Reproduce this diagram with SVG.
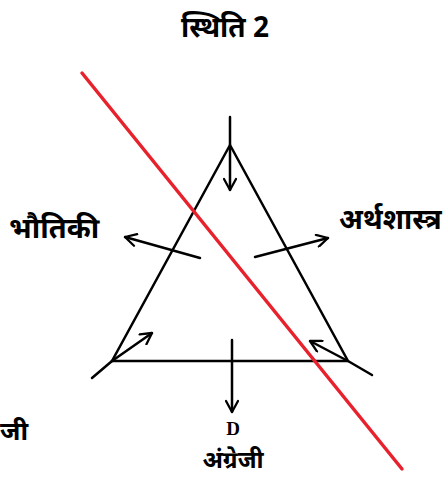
<svg xmlns="http://www.w3.org/2000/svg" width="448" height="477" viewBox="0 0 448 477">
<style>
.ln{stroke:#000;stroke-width:2.5;fill:none;stroke-linecap:round}
.ar{stroke:#000;stroke-width:2.5;fill:none;stroke-linecap:round;marker-end:url(#ah)}
.t{font-family:"Noto Sans","Liberation Sans",sans-serif;font-weight:bold;fill:#000}
.s{font-family:"Liberation Serif",serif;font-weight:bold;fill:#000}
</style>
<defs>
<marker id="ah" viewBox="0 0 14 14" refX="13" refY="7" markerWidth="14" markerHeight="14" markerUnits="userSpaceOnUse" orient="auto">
<path d="M2,1 L13,7 L2,13" fill="none" stroke="#000" stroke-width="2.3" stroke-linecap="round" stroke-linejoin="round"/>
</marker>
</defs>
<rect width="448" height="477" fill="#fff"/>
<g id="title"><text class="t" x="225" y="37" font-size="28" text-anchor="middle">स्थिति 2</text></g>
<g id="triangle">
<path class="ln" d="M230,145 L112,361 L348,361 Z"/>
<line class="ln" x1="230" y1="117" x2="230" y2="145"/>
<line class="ln" x1="112" y1="361" x2="92" y2="378"/>
<line class="ln" x1="348" y1="361" x2="372" y2="375"/>
<line class="ln" x1="232" y1="340" x2="232" y2="361"/>
</g>
<g id="connectors">
<line class="ar" x1="230" y1="147" x2="230" y2="190"/>
<line class="ar" x1="200" y1="258" x2="125" y2="237"/>
<line class="ar" x1="255" y1="257" x2="328" y2="238"/>
<line class="ar" x1="112" y1="361" x2="152" y2="333"/>
<line class="ar" x1="346" y1="360" x2="310" y2="341"/>
<line class="ar" x1="232" y1="361" x2="232" y2="412"/>
</g>
<g id="label-physics"><text class="t" x="9" y="238" font-size="29">भौतिकी</text></g>
<g id="label-economics"><text class="t" x="339" y="229" font-size="28">अर्थशास्त्र</text></g>
<g id="label-left"><text class="t" x="0" y="440" font-size="26">जी</text></g>
<g id="label-english">
<text class="s" x="233" y="435" font-size="19" text-anchor="middle">D</text>
<text class="t" x="233" y="468" font-size="24" text-anchor="middle">अंग्रेजी</text>
</g>
<g id="cut-line"><line x1="82" y1="73" x2="402" y2="469" stroke="#e8222c" stroke-width="3.5" stroke-linecap="round"/></g>
</svg>
